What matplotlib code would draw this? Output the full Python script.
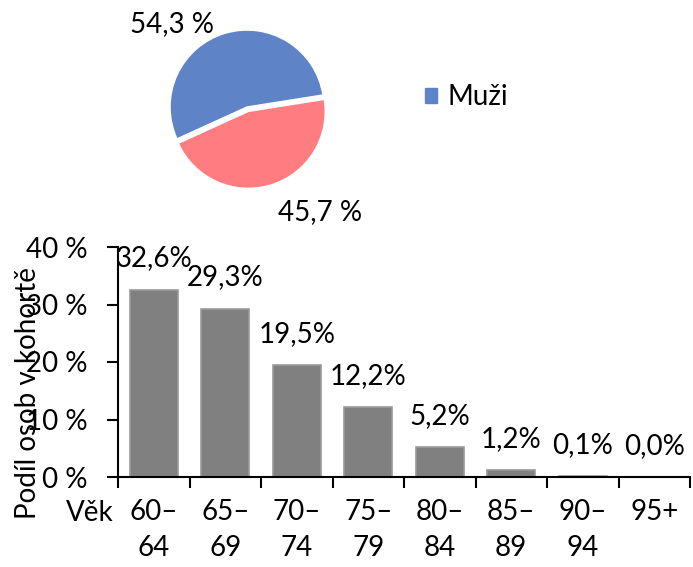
import matplotlib.pyplot as plt
import matplotlib.patches as mpatches
import numpy as np

plt.rcParams['font.family'] = ['Lato', 'DejaVu Sans']

# pohlaví
pie_labels = ['Muži', 'Ženy']
pie_values = [54.3, 45.7]
pie_texts = ['54,3 %', '45,7 %']
pie_colors = ['#5F83C7', '#FF7C80']

# věkové kohorty
ages = ['60–\n64', '65–\n69', '70–\n74', '75–\n79', '80–\n84', '85–\n89', '90–\n94', '95+\n']
shares = [32.6, 29.3, 19.5, 12.2, 5.2, 1.2, 0.1, 0.0]
share_texts = ['32,6%', '29,3%', '19,5%', '12,2%', '5,2%', '1,2%', '0,1%', '0,0%']

fs = 20
fig = plt.figure(figsize=(6.93, 5.67), dpi=100)

# --- pie ---
axp = fig.add_axes([147/693, 1 - 207/567, 200/693, 200/567])
wedges, _ = axp.pie(pie_values, colors=pie_colors, startangle=9, counterclock=True,
                    explode=[0, 0.06], wedgeprops=dict(edgecolor='white', linewidth=1))
axp.set_xlim(-1.3, 1.3)
axp.set_ylim(-1.3, 1.3)
axp.set_aspect('equal')
axp.text(-0.97, 1.08, pie_texts[0], ha='center', va='center', fontsize=fs, clip_on=False)
axp.text(0.95, -1.36, pie_texts[1], ha='center', va='center', fontsize=fs, clip_on=False)
fig.legend(handles=[mpatches.Patch(color=pie_colors[0], label=pie_labels[0])],
           loc='center left', bbox_to_anchor=(400/693, 1 - 97/567), frameon=False,
           fontsize=fs, handlelength=0.45, handleheight=0.45, handletextpad=0.35)

# --- bars ---
ax = fig.add_axes([118/693, 1 - 477/567, 572/693, 230/567])
x = np.arange(len(ages))
ax.bar(x, shares, width=0.67, color='#808080', edgecolor='#9a9a9a', linewidth=1.2)
for xi, v, t in zip(x, shares, share_texts):
    ax.annotate(t, (xi, v), xytext=(0, 22.5), textcoords='offset points',
                ha='center', va='center', fontsize=fs)
ax.set_xlim(-0.5, len(ages) - 0.5)
ax.set_ylim(0, 40)
ax.set_yticks([0, 10, 20, 30, 40])
ax.set_yticklabels(['0 %', '10 %', '20 %', '30 %', '40 %'], fontsize=fs)
ax.set_xticks(x)
ax.set_xticklabels(ages, fontsize=fs, linespacing=1.45)
ax.set_xticks(np.arange(-0.5, len(ages)), minor=True)
ax.tick_params(axis='x', which='major', length=0, pad=16)
ax.tick_params(axis='x', which='minor', length=8, width=1.5, direction='out')
ax.tick_params(axis='y', length=8, width=1.5, direction='out', pad=14)
for s in ['top', 'right']:
    ax.spines[s].set_visible(False)
ax.spines['left'].set_linewidth(1.5)
ax.spines['bottom'].set_linewidth(1.5)
fig.text(28/693, 1 - 393/567, 'Podíl osob v kohortě', rotation=90, ha='center', va='center', fontsize=fs)
fig.text(90/693, 1 - 513/567, 'Věk', ha='center', va='center', fontsize=fs)

plt.savefig('out.png', dpi=100)
